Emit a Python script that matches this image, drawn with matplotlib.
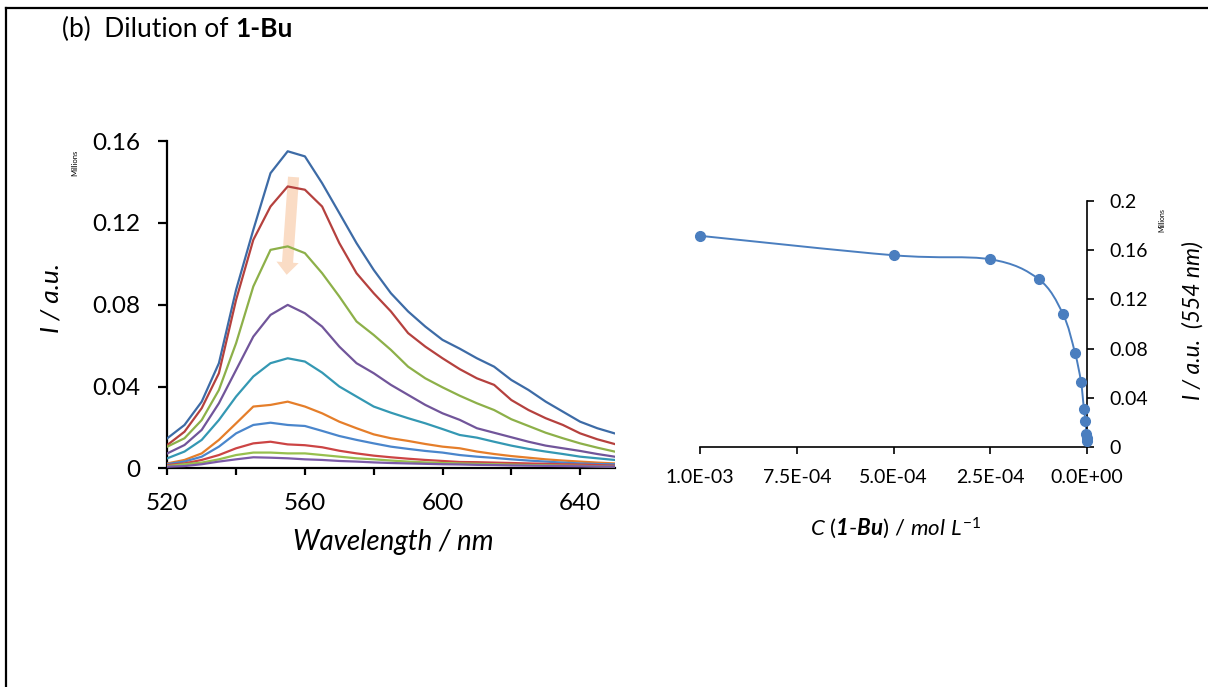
import numpy as np
import matplotlib
matplotlib.use('Agg')
import matplotlib.pyplot as plt
from matplotlib.lines import Line2D
from matplotlib.path import Path
from matplotlib.patches import PathPatch
from matplotlib.ticker import FuncFormatter
from matplotlib.offsetbox import TextArea, HPacker, AnchoredOffsetbox

plt.rcParams['font.family'] = ['Lato', 'DejaVu Sans']
plt.rcParams['mathtext.fontset'] = 'custom'
plt.rcParams['mathtext.rm'] = 'Lato'
plt.rcParams['mathtext.it'] = 'Lato:italic'
plt.rcParams['mathtext.bf'] = 'Lato:italic:bold'

# emission spectra (intensity in millions of a.u.), read every 5 nm
wavelength = list(range(520, 651, 5))
spec_1 = [0.0147, 0.0212, 0.0326, 0.0514, 0.0873, 0.1166, 0.1443, 0.1550, 0.1525, 0.1394, 0.1248, 0.1101, 0.0970, 0.0856,
          0.0767, 0.0693, 0.0628, 0.0585, 0.0538, 0.0497, 0.0432, 0.0383, 0.0326, 0.0277, 0.0228, 0.0196, 0.0171]
spec_2 = [0.0114, 0.0179, 0.0294, 0.0465, 0.0824, 0.1117, 0.1280, 0.1378, 0.1362, 0.1280, 0.1101, 0.0954, 0.0856, 0.0767,
          0.0661, 0.0595, 0.0538, 0.0485, 0.0440, 0.0408, 0.0334, 0.0285, 0.0245, 0.0212, 0.0171, 0.0142, 0.0119]
spec_3 = [0.0106, 0.0147, 0.0236, 0.0383, 0.0612, 0.0889, 0.1068, 0.1085, 0.1052, 0.0954, 0.0840, 0.0718, 0.0652, 0.0579,
          0.0497, 0.0440, 0.0396, 0.0355, 0.0318, 0.0285, 0.0240, 0.0207, 0.0174, 0.0147, 0.0122, 0.0101, 0.0082]
spec_4 = [0.0073, 0.0114, 0.0188, 0.0318, 0.0481, 0.0644, 0.0750, 0.0799, 0.0758, 0.0693, 0.0595, 0.0514, 0.0465, 0.0408,
          0.0359, 0.0310, 0.0269, 0.0237, 0.0196, 0.0174, 0.0152, 0.0130, 0.0111, 0.0098, 0.0085, 0.0070, 0.0057]
spec_5 = [0.0049, 0.0082, 0.0139, 0.0236, 0.0351, 0.0449, 0.0514, 0.0538, 0.0522, 0.0468, 0.0400, 0.0351, 0.0302, 0.0272,
          0.0245, 0.0220, 0.0192, 0.0163, 0.0150, 0.0130, 0.0111, 0.0095, 0.0082, 0.0070, 0.0057, 0.0049, 0.0041]
spec_6 = [0.0024, 0.0041, 0.0073, 0.0139, 0.0220, 0.0302, 0.0310, 0.0326, 0.0302, 0.0269, 0.0228, 0.0196, 0.0166, 0.0147,
          0.0134, 0.0119, 0.0106, 0.0098, 0.0082, 0.0070, 0.0060, 0.0052, 0.0044, 0.0038, 0.0033, 0.0028, 0.0024]
spec_7 = [0.0021, 0.0033, 0.0057, 0.0106, 0.0171, 0.0212, 0.0223, 0.0212, 0.0207, 0.0183, 0.0158, 0.0139, 0.0122, 0.0106,
          0.0095, 0.0085, 0.0077, 0.0065, 0.0057, 0.0051, 0.0044, 0.0038, 0.0033, 0.0028, 0.0024, 0.0021, 0.0020]
spec_8 = [0.0016, 0.0024, 0.0041, 0.0065, 0.0098, 0.0122, 0.0130, 0.0117, 0.0113, 0.0103, 0.0086, 0.0073, 0.0062, 0.0054,
          0.0047, 0.0041, 0.0036, 0.0031, 0.0030, 0.0028, 0.0026, 0.0024, 0.0022, 0.0020, 0.0018, 0.0016, 0.0013]
spec_9 = [0.0011, 0.0020, 0.0028, 0.0044, 0.0065, 0.0077, 0.0077, 0.0073, 0.0073, 0.0065, 0.0057, 0.0049, 0.0044, 0.0038,
          0.0033, 0.0029, 0.0026, 0.0024, 0.0022, 0.0020, 0.0018, 0.0016, 0.0015, 0.0013, 0.0012, 0.0010, 0.0008]
spec_10 = [0.0008, 0.0011, 0.0020, 0.0033, 0.0044, 0.0054, 0.0052, 0.0049, 0.0044, 0.0041, 0.0036, 0.0033, 0.0029, 0.0026,
           0.0024, 0.0022, 0.0020, 0.0019, 0.0017, 0.0016, 0.0014, 0.0013, 0.0012, 0.0011, 0.0010, 0.0009, 0.0008]
spectra = [spec_1, spec_2, spec_3, spec_4, spec_5, spec_6, spec_7, spec_8, spec_9, spec_10]
spec_colors = ['#3D6BA6', '#B5413E', '#8DB049', '#71559A', '#3498B3',
               '#E57E2A', '#4A86CC', '#CC4444', '#97C04E', '#7B5AA8']

# intensity at 554 nm vs concentration
conc = [1.0e-3, 5.0e-4, 2.5e-4, 1.25e-4, 6.25e-5, 3.125e-5, 1.5625e-5, 7.8e-6, 3.9e-6, 1.95e-6, 9.8e-7, 4.9e-7]
peak_int = [0.1717, 0.1559, 0.1526, 0.1365, 0.1084, 0.0768, 0.0531, 0.0305, 0.0213, 0.0109, 0.0075, 0.0052]


def smooth_path(ax, xs, ys):
    # excel-like smoothed line: bezier segments built in screen space
    pts = ax.transData.transform(np.column_stack([xs, ys]))
    n = len(pts)
    verts = [pts[0]]
    codes = [Path.MOVETO]
    for i in range(n - 1):
        p0 = pts[max(i - 1, 0)]
        p1 = pts[i]
        p2 = pts[i + 1]
        p3 = pts[min(i + 2, n - 1)]
        verts += [p1 + (p2 - p0) / 6, p2 - (p3 - p1) / 6, p2]
        codes += [Path.CURVE4] * 3
    verts = ax.transData.inverted().transform(np.array(verts))
    return Path(verts, codes)


fig = plt.figure(figsize=(12.08, 6.87), dpi=100)

# frame lines (left and top)
fig.add_artist(Line2D([6 / 1208, 6 / 1208], [0, 1 - 8 / 687], color='black', lw=1.6, transform=fig.transFigure))
fig.add_artist(Line2D([6 / 1208, 1], [1 - 8 / 687, 1 - 8 / 687], color='black', lw=1.6, transform=fig.transFigure))

# title
title_box = HPacker(children=[TextArea('(b)  Dilution of ', textprops=dict(fontsize=19)),
                              TextArea('1-Bu', textprops=dict(fontsize=19, fontweight='bold'))],
                    align='baseline', pad=0, sep=0)
fig.add_artist(AnchoredOffsetbox(loc='center left', child=title_box, frameon=False, pad=0, borderpad=0,
                                 bbox_to_anchor=(62 / 1208, 1 - 29 / 687), bbox_transform=fig.transFigure))

# ---- left panel: spectra
ax1 = fig.add_axes([0.1385, 0.3183, 0.3702, 0.4764])
for vals, c in zip(spectra, spec_colors):
    ax1.plot(wavelength, vals, color=c, lw=1.6, zorder=3)
ax1.annotate('', xy=(554.7, 0.0946), xytext=(556.7, 0.1424),
             arrowprops=dict(arrowstyle='simple,head_length=0.9,head_width=1.6,tail_width=0.8',
                             fc='#FADCC5', ec='none', shrinkA=0, shrinkB=0, mutation_scale=10), zorder=1)
ax1.set_xlim(520, 650)
ax1.set_ylim(0, 0.16)
ax1.spines['top'].set_visible(False)
ax1.spines['right'].set_visible(False)
for s in ['left', 'bottom']:
    ax1.spines[s].set_linewidth(1.6)
xt = list(range(520, 641, 20))
ax1.set_xticks(xt)
ax1.set_xticklabels([str(v) if v % 40 == 0 else '' for v in xt])
ax1.set_yticks([0, 0.04, 0.08, 0.12, 0.16])
ax1.yaxis.set_major_formatter(FuncFormatter(lambda v, p: '{:g}'.format(round(v, 4))))
ax1.tick_params(axis='x', direction='out', length=5, width=1.6, labelsize=17.5, pad=13)
ax1.tick_params(axis='y', direction='out', length=6.5, width=1.6, labelsize=17.5, pad=13)
ax1.set_xlabel('Wavelength / nm', fontsize=20, fontstyle='italic')
ax1.xaxis.set_label_coords(0.505, -0.185)
ax1.set_ylabel('I / a.u.', fontsize=19, fontstyle='italic')
ax1.yaxis.set_label_coords(-0.235, 0.52)
fig.text(75 / 1208, 1 - 163 / 687, 'Millions', rotation=90, fontsize=5.5, ha='center', va='center')

# ---- right panel: intensity vs concentration
ax2 = fig.add_axes([700 / 1208, (687 - 447) / 687, 387 / 1208, 246 / 687])
ax2.set_xlim(1e-3, 0)
ax2.set_ylim(0, 0.2)
ax2.add_patch(PathPatch(smooth_path(ax2, conc, peak_int), fc='none', ec='#4A7EBF', lw=1.4))
ax2.plot(conc, peak_int, 'o', ms=7, color='#4A7EBF', clip_on=False, zorder=4)
ax2.spines['top'].set_visible(False)
ax2.spines['left'].set_visible(False)
for s in ['right', 'bottom']:
    ax2.spines[s].set_linewidth(1.2)
ax2.yaxis.tick_right()
ax2.yaxis.set_label_position('right')
ax2.set_xticks([1e-3, 7.5e-4, 5e-4, 2.5e-4, 0])
ax2.xaxis.set_major_formatter(FuncFormatter(lambda v, p: '{:.1E}'.format(v)))
ax2.set_yticks([0, 0.04, 0.08, 0.12, 0.16, 0.2])
ax2.yaxis.set_major_formatter(FuncFormatter(lambda v, p: '{:g}'.format(round(v, 4))))
ax2.tick_params(axis='both', direction='out', length=5, width=1.2, labelsize=14, pad=11)
ax2.set_xlabel(r'$C\ (\mathbf{1}$-$\mathbf{Bu})\ /\ mol\ L^{-1}$', fontsize=16)
ax2.xaxis.set_label_coords(0.506, -0.28)
ax2.set_ylabel('I / a.u.  (554 nm)', fontsize=16.5, fontstyle='italic')
ax2.yaxis.set_label_coords(1.245, 0.516)
fig.text(1162 / 1208, 1 - 220 / 687, 'Millions', rotation=90, fontsize=5, ha='center', va='center')

fig.savefig('out.png', dpi=100)
